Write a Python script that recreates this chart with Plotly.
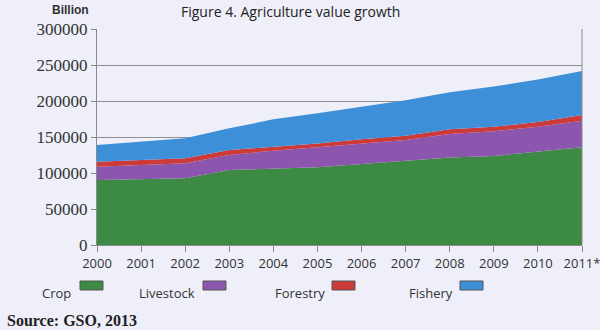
import plotly.graph_objects as go

years = ["2000", "2001", "2002", "2003", "2004", "2005", "2006", "2007", "2008", "2009", "2010", "2011*"]
crop = [90300, 91500, 92600, 104000, 105500, 108000, 112500, 117000, 121700, 123600, 129600, 135700]
livestock = [18500, 19500, 20800, 21000, 25500, 27600, 28500, 28800, 32300, 34400, 34700, 36900]
forestry = [6900, 7000, 7000, 7000, 5600, 5400, 5800, 6000, 6600, 6300, 6700, 7900]
fishery = [23200, 25500, 27800, 30000, 37900, 42000, 45200, 49200, 51400, 55700, 59000, 61200]

series = [
    ("Crop", crop, "#3d8a45"),
    ("Livestock", livestock, "#8c55ae"),
    ("Forestry", forestry, "#cc3a3a"),
    ("Fishery", fishery, "#3d8fd8"),
]

bg = "#eeeff8"
fig = go.Figure()
for name, vals, col in series:
    fig.add_trace(go.Scatter(
        x=years, y=vals, name=name, mode="lines", stackgroup="one",
        line=dict(width=0, color=col), fillcolor=col, showlegend=False,
    ))

fig.update_layout(
    width=600, height=330,
    margin=dict(l=97, r=18, t=29, b=85),
    paper_bgcolor=bg, plot_bgcolor=bg,
    xaxis=dict(
        type="category", range=[0, 11], showgrid=False, automargin=False,
        showline=True, linecolor="#8a8a8a", linewidth=1,
        ticks="outside", ticklen=6, tickcolor="#8a8a8a",
        tickfont=dict(family="Open Sans", size=13, color="#333333"),
    ),
    yaxis=dict(
        range=[0, 300000], dtick=50000, tickformat="d", automargin=False,
        showgrid=True, gridcolor="#8f8f8f", gridwidth=1,
        showline=True, linecolor="#8a8a8a", linewidth=1,
        ticks="outside", ticklen=5, tickcolor="#8a8a8a",
        tickfont=dict(family="Liberation Serif", size=17, color="#333333"),
        zeroline=False,
    ),
)

# right border of plot area
fig.add_shape(type="line", xref="paper", yref="paper", x0=1, x1=1, y0=0, y1=1,
              line=dict(color="#8a8a8a", width=1))

fig.add_annotation(text="Figure 4. Agriculture value growth", xref="paper", yref="paper",
                   x=(290 - 97) / 485, y=1, yshift=6, xanchor="center", yanchor="bottom",
                   showarrow=False, font=dict(family="Open Sans", size=14, color="#222222"))
fig.add_annotation(text="<b>Billion</b>", xref="paper", yref="paper",
                   x=(70 - 97) / 485, y=1, yshift=10, xanchor="center", yanchor="bottom",
                   showarrow=False, font=dict(family="Liberation Sans", size=12, color="#333333"))

# custom legend (text followed by swatch)
legend_pos = [(40, 80), (137, 203), (273, 332), (407, 460)]
for (name, vals, col), (tx, sx) in zip(series, legend_pos):
    fig.add_annotation(text=name, xref="paper", yref="paper",
                       x=(tx - 97) / 485, y=-(293 - 245) / 216, xanchor="left", yanchor="middle",
                       showarrow=False, font=dict(family="Open Sans", size=13, color="#333333"))
    fig.add_shape(type="rect", xref="paper", yref="paper",
                  x0=(sx - 97) / 485, x1=(sx + 23 - 97) / 485,
                  y0=-(290 - 245) / 216, y1=-(281 - 245) / 216,
                  fillcolor=col, line=dict(color="#555555", width=1))

fig.add_annotation(text="<b>Source: GSO, 2013</b>", xref="paper", yref="paper",
                   x=(5 - 97) / 485, y=-(320 - 245) / 216, xanchor="left", yanchor="middle",
                   showarrow=False, font=dict(family="Liberation Serif", size=16, color="#222222"))

fig.write_html("out.html")
